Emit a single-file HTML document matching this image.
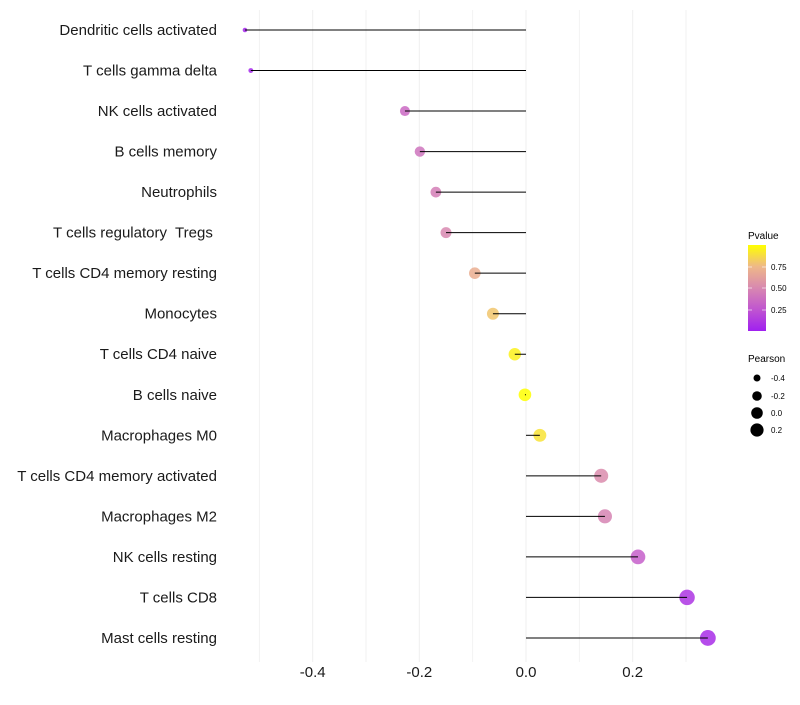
<!DOCTYPE html>
<html><head><meta charset="utf-8"><style>
body{margin:0;background:#fff;}
svg text{font-family:"Liberation Sans",Arial,sans-serif;white-space:pre;}
</style></head><body>
<svg id="chart" width="800" height="700" xmlns="http://www.w3.org/2000/svg">
<defs>
<linearGradient id="pg" x1="0" y1="1" x2="0" y2="0">
<stop offset="0" stop-color="#a020f0"/>
<stop offset="0.25" stop-color="#c055d0"/>
<stop offset="0.5" stop-color="#d888b0"/>
<stop offset="0.75" stop-color="#eeb888"/>
<stop offset="1" stop-color="#ffff00"/>
</linearGradient>
</defs>
<g id="grid"></g>
<g id="marks"></g>
<g id="ylab"></g>
<g id="xlab"></g>
<g>
<text x="748" y="239" font-size="10">Pvalue</text>
<rect x="748" y="245" width="18" height="86" fill="url(#pg)"/>
<line x1="748" y1="267" x2="752" y2="267" stroke="#fff" opacity="0.6"/><line x1="762" y1="267" x2="766" y2="267" stroke="#fff" opacity="0.6"/>
<line x1="748" y1="288" x2="752" y2="288" stroke="#fff" opacity="0.6"/><line x1="762" y1="288" x2="766" y2="288" stroke="#fff" opacity="0.6"/>
<line x1="748" y1="310" x2="752" y2="310" stroke="#fff" opacity="0.6"/><line x1="762" y1="310" x2="766" y2="310" stroke="#fff" opacity="0.6"/>
<text x="771" y="270" font-size="8">0.75</text>
<text x="771" y="291" font-size="8">0.50</text>
<text x="771" y="313" font-size="8">0.25</text>
</g>
<g>
<text x="748" y="362" font-size="10">Pearson</text>
<circle cx="757" cy="378" r="3.5" fill="#000"/><text x="771" y="381" font-size="8">-0.4</text>
<circle cx="757" cy="396" r="4.8" fill="#000"/><text x="771" y="399" font-size="8">-0.2</text>
<circle cx="757" cy="413" r="5.8" fill="#000"/><text x="771" y="416" font-size="8">0.0</text>
<circle cx="757" cy="430" r="6.6" fill="#000"/><text x="771" y="433" font-size="8">0.2</text>
</g>
</svg>
<script>
const categories=["Dendritic cells activated","T cells gamma delta","NK cells activated","B cells memory","Neutrophils","T cells regulatory  Tregs ","T cells CD4 memory resting","Monocytes","T cells CD4 naive","B cells naive","Macrophages M0","T cells CD4 memory activated","Macrophages M2","NK cells resting","T cells CD8","Mast cells resting"];
const pearson=[-0.527,-0.516,-0.227,-0.199,-0.169,-0.15,-0.096,-0.062,-0.021,-0.002,0.026,0.141,0.148,0.21,0.302,0.341];
const pvalue=[0.03,0.04,0.35,0.4,0.45,0.5,0.7,0.8,0.95,1.0,0.9,0.52,0.48,0.3,0.1,0.06];
const xTicks=[-0.4,-0.2,0.0,0.2];
const xTickLabels=["-0.4","-0.2","0.0","0.2"];
const NS="http://www.w3.org/2000/svg";
const x=v=>526+v*533.3;
const y=i=>30+i*40.53;
function mk(t,a,p){const e=document.createElementNS(NS,t);for(const k in a)e.setAttribute(k,a[k]);p.appendChild(e);return e;}
const stops=[[0,[160,32,240]],[0.25,[192,85,208]],[0.5,[216,136,176]],[0.75,[238,184,136]],[1,[255,255,0]]];
function col(p){for(let i=1;i<stops.length;i++){if(p<=stops[i][0]){const a=stops[i-1],b=stops[i];const t=(p-a[0])/(b[0]-a[0]);const c=a[1].map((v,j)=>Math.round(v+(b[1][j]-v)*t));return `rgb(${c})`;}}return "rgb(255,255,0)";}
const grid=document.getElementById('grid');
for(let k=-5;k<=3;k++){const l=mk('line',{x1:x(k/10),x2:x(k/10),y1:10,y2:662,stroke:'#efefef','stroke-width':k%2===0?1:0.8},grid);

}
const marks=document.getElementById('marks'),ylab=document.getElementById('ylab'),xlab=document.getElementById('xlab');
categories.forEach((c,i)=>{
const r=Math.sqrt(Math.max(3,40+66*pearson[i]));
const dot=mk('circle',{cx:x(pearson[i]),cy:y(i),r:r,fill:col(pvalue[i]),opacity:0.85},marks);


const seg=mk('line',{x1:x(0),x2:x(pearson[i]),y1:y(i),y2:y(i),stroke:'#000','stroke-width':1},marks);


const t=mk('text',{x:217,y:y(i)+5,'text-anchor':'end','font-size':15,fill:'#1a1a1a'},ylab);
t.textContent=c;


});
xTicks.forEach((v,i)=>{const t=mk('text',{x:x(v),y:677,'text-anchor':'middle','font-size':15,fill:'#1a1a1a'},xlab);
t.textContent=xTickLabels[i];

});
</script>
</body></html>
